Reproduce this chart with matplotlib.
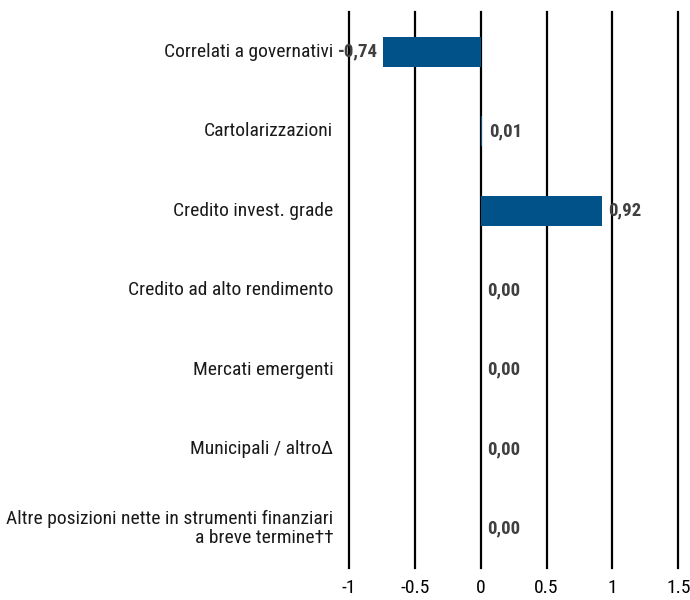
import matplotlib

matplotlib.use("Agg")
import matplotlib.pyplot as plt
import numpy as np

categories = [
    "Correlati a governativi",
    "Cartolarizzazioni",
    "Credito invest. grade",
    "Credito ad alto rendimento",
    "Mercati emergenti",
    "Municipali / altro\u0394",
    "Altre posizioni nette in strumenti finanziari\na breve termine\u2020\u2020",
]
values = [-0.74, 0.01, 0.92, 0.00, 0.00, 0.00, 0.00]
xticks = [-1, -0.5, 0, 0.5, 1, 1.5]
xtick_labels = ["-1", "-0.5", "0", "0.5", "1", "1.5"]

plt.rcParams["font.family"] = ["Roboto Condensed", "Liberation Sans", "DejaVu Sans"]

fig = plt.figure(figsize=(6.9, 6), dpi=100)
ax = fig.add_axes([0.506, 0.053, 0.477, 0.927])

y = np.arange(len(categories))
ax.barh(y, values, height=0.38, color="#005288", zorder=3)

for xt in xticks:
    ax.axvline(xt, color="black", linewidth=1.6, zorder=1, clip_on=False)

# étiquettes de valeur (virgule décimale)
for yi, v in zip(y, values):
    label = f"{v:.2f}".replace(".", ",")
    if v < 0:
        ax.text(v - 0.04, yi, label, ha="right", va="center", fontsize=13.5,
                fontweight="bold", color="#404040", zorder=4)
    else:
        ax.text(v + 0.05, yi, label, ha="left", va="center", fontsize=13.5,
                fontweight="bold", color="#404040", zorder=4)

for yi, cat in zip(y, categories):
    ax.text(-1.12, yi, cat, ha="right", va="center", fontsize=14,
            color="#1a1a1a", multialignment="right", linespacing=1.1)

ax.set_xlim(-1.0, 1.5)
ax.set_ylim(len(categories) - 0.5, -0.5)
ax.set_yticks([])
ax.set_xticks(xticks, xtick_labels)
ax.tick_params(axis="x", length=0, labelsize=14, pad=8)
for s in ax.spines.values():
    s.set_visible(False)

fig.savefig("out.png", dpi=100)
